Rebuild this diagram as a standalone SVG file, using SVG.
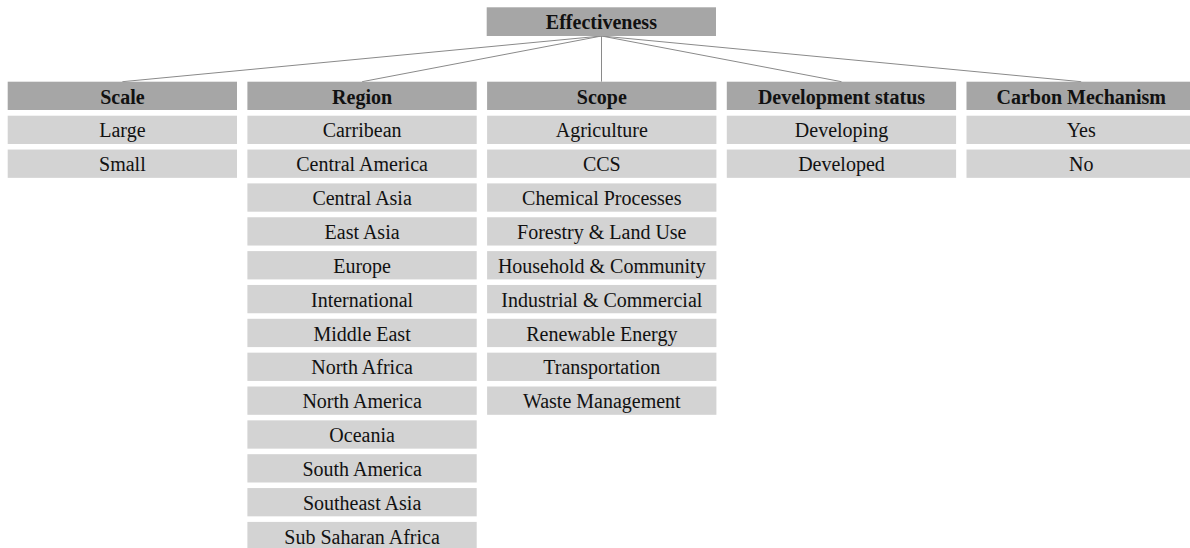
<svg xmlns="http://www.w3.org/2000/svg" width="1190" height="548" viewBox="0 0 1190 548">
  <style>
    .hd { fill: #a6a6a6; }
    .it { fill: #d3d3d3; }
    .ht { font-family: "Liberation Serif", "Times New Roman", serif; font-size: 20px; font-weight: bold; fill: #111; text-anchor: middle; }
    .tt { font-family: "Liberation Serif", "Times New Roman", serif; font-size: 20px; fill: #111; text-anchor: middle; }
    .cn { stroke: #8a8a8a; stroke-width: 1; fill: none; }
  </style>
  <rect width="1190" height="548" fill="#ffffff"/>

  <!-- connectors from the root to each category header -->
  <g id="connectors">
    <line class="cn" x1="601.5" y1="36" x2="122.4" y2="81.7"/>
    <line class="cn" x1="601.5" y1="36" x2="362.1" y2="81.7"/>
    <line class="cn" x1="601.5" y1="36" x2="601.5" y2="81.7" stroke="#b5b5b5"/>
    <line class="cn" x1="601.5" y1="36" x2="841.5" y2="81.7"/>
    <line class="cn" x1="601.5" y1="36" x2="1081.2" y2="81.7"/>
  </g>

  <!-- root -->
  <g id="effectiveness">
    <rect class="hd" x="486.7" y="7.3" width="229.3" height="28.7"/>
    <text class="ht" x="601.4" y="29.2">Effectiveness</text>
  </g>

  <!-- Scale -->
  <g id="scale">
    <rect class="hd" x="7.7" y="81.7" width="229.3" height="28.3"/>
    <text class="ht" x="122.4" y="103.6">Scale</text>
  </g>
  <g id="scale-large"><rect class="it" x="7.7" y="115.7" width="229.3" height="28.3"/><text class="tt" x="122.4" y="137.4">Large</text></g>
  <g id="scale-small"><rect class="it" x="7.7" y="149.55" width="229.3" height="28.3"/><text class="tt" x="122.4" y="171.25">Small</text></g>

  <!-- Region -->
  <g id="region">
    <rect class="hd" x="247.4" y="81.7" width="229.3" height="28.3"/>
    <text class="ht" x="362.1" y="103.6">Region</text>
  </g>
  <g id="region-carribean"><rect class="it" x="247.4" y="115.7" width="229.3" height="28.3"/><text class="tt" x="362.1" y="137.4">Carribean</text></g>
  <g id="region-central-america"><rect class="it" x="247.4" y="149.55" width="229.3" height="28.3"/><text class="tt" x="362.1" y="171.25">Central America</text></g>
  <g id="region-central-asia"><rect class="it" x="247.4" y="183.4" width="229.3" height="28.3"/><text class="tt" x="362.1" y="205.1">Central Asia</text></g>
  <g id="region-east-asia"><rect class="it" x="247.4" y="217.25" width="229.3" height="28.3"/><text class="tt" x="362.1" y="238.95">East Asia</text></g>
  <g id="region-europe"><rect class="it" x="247.4" y="251.1" width="229.3" height="28.3"/><text class="tt" x="362.1" y="272.8">Europe</text></g>
  <g id="region-international"><rect class="it" x="247.4" y="284.95" width="229.3" height="28.3"/><text class="tt" x="362.1" y="306.65">International</text></g>
  <g id="region-middle-east"><rect class="it" x="247.4" y="318.8" width="229.3" height="28.3"/><text class="tt" x="362.1" y="340.5">Middle East</text></g>
  <g id="region-north-africa"><rect class="it" x="247.4" y="352.65" width="229.3" height="28.3"/><text class="tt" x="362.1" y="374.35">North Africa</text></g>
  <g id="region-north-america"><rect class="it" x="247.4" y="386.5" width="229.3" height="28.3"/><text class="tt" x="362.1" y="408.2">North America</text></g>
  <g id="region-oceania"><rect class="it" x="247.4" y="420.35" width="229.3" height="28.3"/><text class="tt" x="362.1" y="442.05">Oceania</text></g>
  <g id="region-south-america"><rect class="it" x="247.4" y="454.2" width="229.3" height="28.3"/><text class="tt" x="362.1" y="475.9">South America</text></g>
  <g id="region-southeast-asia"><rect class="it" x="247.4" y="488.05" width="229.3" height="28.3"/><text class="tt" x="362.1" y="509.75">Southeast Asia</text></g>
  <g id="region-sub-saharan-africa"><rect class="it" x="247.4" y="521.9" width="229.3" height="28.3"/><text class="tt" x="362.1" y="543.6">Sub Saharan Africa</text></g>

  <!-- Scope -->
  <g id="scope">
    <rect class="hd" x="487.1" y="81.7" width="229.3" height="28.3"/>
    <text class="ht" x="601.8" y="103.6">Scope</text>
  </g>
  <g id="scope-agriculture"><rect class="it" x="487.1" y="115.7" width="229.3" height="28.3"/><text class="tt" x="601.8" y="137.4">Agriculture</text></g>
  <g id="scope-ccs"><rect class="it" x="487.1" y="149.55" width="229.3" height="28.3"/><text class="tt" x="601.8" y="171.25">CCS</text></g>
  <g id="scope-chemical"><rect class="it" x="487.1" y="183.4" width="229.3" height="28.3"/><text class="tt" x="601.8" y="205.1">Chemical Processes</text></g>
  <g id="scope-forestry"><rect class="it" x="487.1" y="217.25" width="229.3" height="28.3"/><text class="tt" x="601.8" y="238.95">Forestry &amp; Land Use</text></g>
  <g id="scope-household"><rect class="it" x="487.1" y="251.1" width="229.3" height="28.3"/><text class="tt" x="601.8" y="272.8">Household &amp; Community</text></g>
  <g id="scope-industrial"><rect class="it" x="487.1" y="284.95" width="229.3" height="28.3"/><text class="tt" x="601.8" y="306.65">Industrial &amp; Commercial</text></g>
  <g id="scope-renewable"><rect class="it" x="487.1" y="318.8" width="229.3" height="28.3"/><text class="tt" x="601.8" y="340.5">Renewable Energy</text></g>
  <g id="scope-transportation"><rect class="it" x="487.1" y="352.65" width="229.3" height="28.3"/><text class="tt" x="601.8" y="374.35">Transportation</text></g>
  <g id="scope-waste"><rect class="it" x="487.1" y="386.5" width="229.3" height="28.3"/><text class="tt" x="601.8" y="408.2">Waste Management</text></g>

  <!-- Development status -->
  <g id="development-status">
    <rect class="hd" x="726.8" y="81.7" width="229.3" height="28.3"/>
    <text class="ht" x="841.5" y="103.6">Development status</text>
  </g>
  <g id="dev-developing"><rect class="it" x="726.8" y="115.7" width="229.3" height="28.3"/><text class="tt" x="841.5" y="137.4">Developing</text></g>
  <g id="dev-developed"><rect class="it" x="726.8" y="149.55" width="229.3" height="28.3"/><text class="tt" x="841.5" y="171.25">Developed</text></g>

  <!-- Carbon Mechanism -->
  <g id="carbon-mechanism">
    <rect class="hd" x="966.5" y="81.7" width="229.3" height="28.3"/>
    <text class="ht" x="1081.2" y="103.6">Carbon Mechanism</text>
  </g>
  <g id="carbon-yes"><rect class="it" x="966.5" y="115.7" width="229.3" height="28.3"/><text class="tt" x="1081.2" y="137.4">Yes</text></g>
  <g id="carbon-no"><rect class="it" x="966.5" y="149.55" width="229.3" height="28.3"/><text class="tt" x="1081.2" y="171.25">No</text></g>
</svg>
